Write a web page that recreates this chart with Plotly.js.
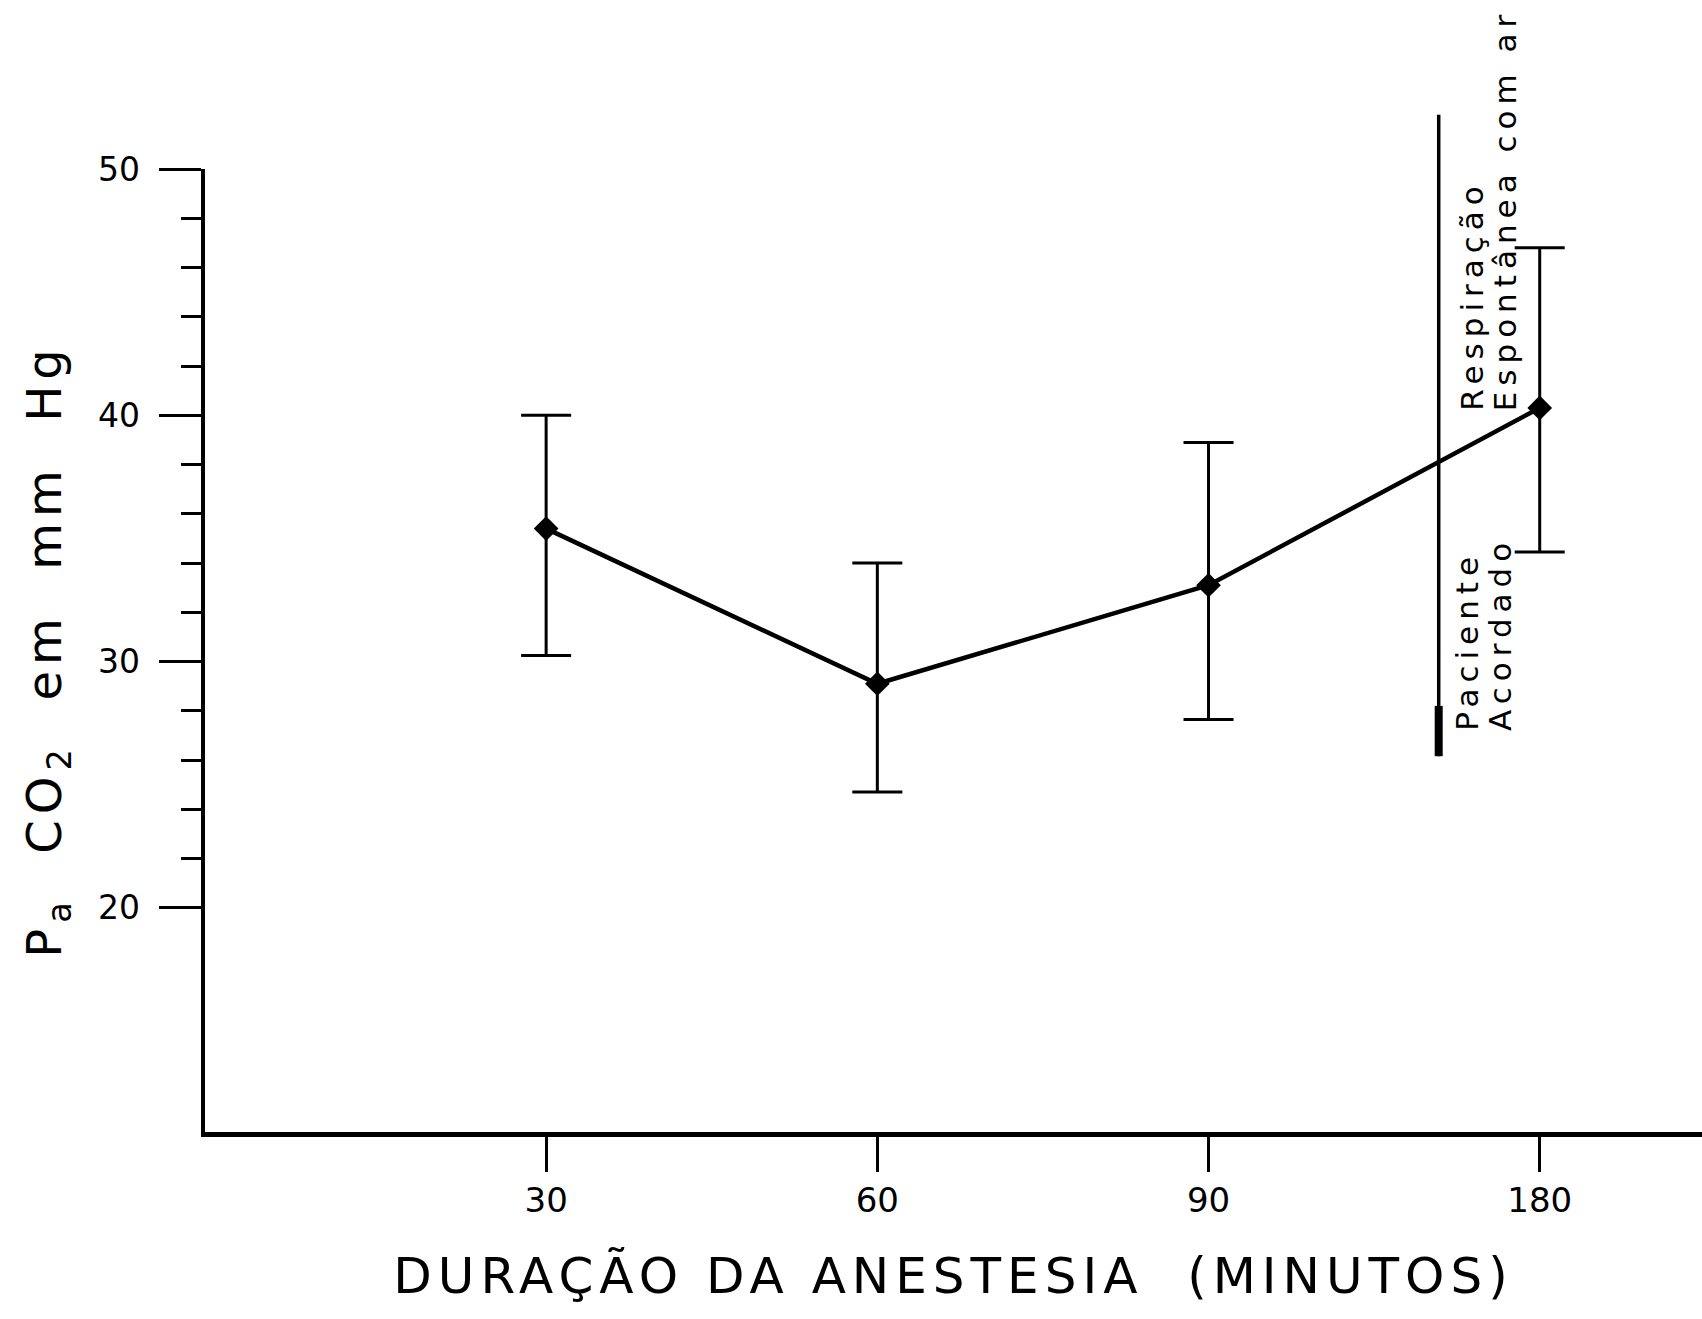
<!DOCTYPE html>
<html>
<head>
<meta charset="utf-8">
<script src="https://cdn.plot.ly/plotly-3.0.1.min.js"></script>
<style>
  html, body { margin: 0; padding: 0; background: #fff; }
  #chart { width: 1702px; height: 1319px; }
  .xtitle, .ytitle { letter-spacing: 6px; }
  .annotation-text { letter-spacing: 6px; }
</style>
</head>
<body>
<div id="chart"></div>
<script>
// ---- data ----
const categories = ['30', '60', '90', '180'];          // duração da anestesia (minutos)
const paco2Mean  = [35.4, 29.1, 33.1, 40.3];           // PaCO2 médio (mm Hg)
const paco2Upper = [40.0, 34.0, 38.9, 46.8];           // topo da barra de erro
const paco2Lower = [30.25, 24.7, 27.65, 34.45];        // base da barra de erro
const yMajorTicks = [20, 30, 40, 50];
const yMinorTicks = [22, 24, 26, 28, 32, 34, 36, 38, 42, 44, 46, 48];
const markerLineTop = 52.2;     // marca vertical "Paciente Acordado"
const markerLineBottom = 26.16;
const markerLineThick = 28.2;

const yMin = 10.9, yMax = 50;
const toPaper = v => (v - yMin) / (yMax - yMin);

const errPlus  = paco2Upper.map((u, i) => +(u - paco2Mean[i]).toFixed(2));
const errMinus = paco2Lower.map((l, i) => +(paco2Mean[i] - l).toFixed(2));

const FONT = 'DejaVu Sans, Liberation Sans, sans-serif';

const trace = {
  type: 'scatter',
  mode: 'lines+markers',
  x: categories,
  y: paco2Mean,
  line: { color: '#000', width: 4.5 },
  marker: { symbol: 'diamond', size: 19, color: '#000' },
  error_y: {
    type: 'data', symmetric: false,
    array: errPlus, arrayminus: errMinus,
    color: '#000', thickness: 3, width: 25
  },
  cliponaxis: false,
  showlegend: false
};

const markerX = 2.695;

const layout = {
  width: 1702, height: 1319,
  margin: { l: 205, r: 0, t: 169, b: 187 },
  paper_bgcolor: '#fff', plot_bgcolor: '#fff',
  font: { family: FONT, color: '#000' },
  showlegend: false,
  xaxis: {
    type: 'category',
    categoryorder: 'array', categoryarray: categories,
    range: [-1.03, 3.49],
    showgrid: false, zeroline: false,
    showline: true, linecolor: '#000', linewidth: 4.5,
    ticks: 'outside', ticklen: 35, tickwidth: 3, tickcolor: '#000',
    ticklabelstandoff: 0,
    tickfont: { family: FONT, size: 34, color: '#000' },
    title: {
      text: 'DURAÇÃO DA ANESTESIA\u00a0\u00a0(MINUTOS)',
      font: { family: FONT, size: 50, color: '#000' },
      standoff: 40
    },
    fixedrange: true
  },
  yaxis: {
    range: [yMin, yMax],
    showgrid: false, zeroline: false,
    showline: true, linecolor: '#000', linewidth: 4.5,
    tickmode: 'array', tickvals: yMajorTicks,
    ticks: 'outside', ticklen: 42, tickwidth: 3, tickcolor: '#000',
    ticklabelstandoff: 12,
    tickfont: { family: FONT, size: 33, color: '#000' },
    minor: {
      tickmode: 'array', tickvals: yMinorTicks,
      ticks: 'outside', ticklen: 20, tickwidth: 3, tickcolor: '#000',
      showgrid: false
    },
    title: {
      text: 'P<sub>a</sub>\u00a0 CO<sub>2</sub>\u00a0 em\u00a0 mm\u00a0 Hg',
      font: { family: FONT, size: 48, color: '#000' },
      standoff: 22
    },
    fixedrange: true
  },
  shapes: [
    { type: 'line', xref: 'x', yref: 'paper',
      x0: markerX, x1: markerX, y0: toPaper(markerLineBottom), y1: toPaper(markerLineTop),
      line: { color: '#000', width: 3.5 } },
    { type: 'line', xref: 'x', yref: 'paper',
      x0: markerX, x1: markerX, y0: toPaper(markerLineBottom), y1: toPaper(markerLineThick),
      line: { color: '#000', width: 8 } }
  ],
  annotations: [
    { text: 'Respiração', xref: 'x', yref: 'y', x: 2.795, y: 40.1,
      xanchor: 'center', yanchor: 'bottom', textangle: -90, showarrow: false,
      font: { family: FONT, size: 31, color: '#000' } },
    { text: 'Espontânea com ar', xref: 'x', yref: 'y', x: 2.895, y: 40.1,
      xanchor: 'center', yanchor: 'bottom', textangle: -90, showarrow: false,
      font: { family: FONT, size: 31, color: '#000' } },
    { text: 'Paciente', xref: 'x', yref: 'y', x: 2.78, y: 27.1,
      xanchor: 'center', yanchor: 'bottom', textangle: -90, showarrow: false,
      font: { family: FONT, size: 31, color: '#000' } },
    { text: 'Acordado', xref: 'x', yref: 'y', x: 2.88, y: 27.1,
      xanchor: 'center', yanchor: 'bottom', textangle: -90, showarrow: false,
      font: { family: FONT, size: 31, color: '#000' } }
  ]
};

Plotly.newPlot('chart', [trace], layout, { staticPlot: true, displayModeBar: false });
</script>
</body>
</html>
